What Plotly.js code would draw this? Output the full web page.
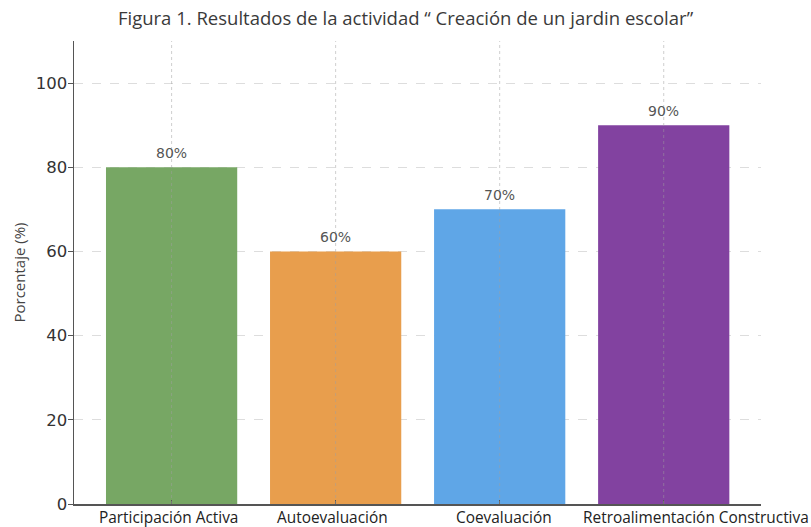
<!DOCTYPE html>
<html>
<head>
<meta charset="utf-8">
<script src="https://cdn.plot.ly/plotly-3.0.1.min.js"></script>
<style>html,body{margin:0;padding:0;background:#fff;}#chart{width:811px;height:527px;}</style>
</head>
<body>
<div id="chart"></div>
<script>
const categories = ["Participación Activa", "Autoevaluación", "Coevaluación", "Retroalimentación Constructiva"];
const values = [80, 60, 70, 90];
const barColors = ["#77a764", "#e89e4d", "#5fa6e7", "#8242a0"];
const yTicks = [0, 20, 40, 60, 80, 100];
const chartTitle = "Figura 1. Resultados de la actividad “ Creación de un jardin escolar”";
const yTitle = "Porcentaje (%)";
const labelShift = [-3, -3, 4, 32];

const trace = {
  type: "bar",
  x: categories,
  y: values,
  width: 0.8,
  marker: { color: barColors, line: { width: 0 } },
  hoverinfo: "skip"
};

const valueLabels = categories.map((c, i) => ({
  x: c, y: values[i], xref: "x", yref: "y",
  text: values[i] + "%", showarrow: false,
  yanchor: "bottom", yshift: 4,
  font: { family: "DejaVu Sans", size: 14, color: "#555555" }
}));

const categoryLabels = categories.map((c, i) => ({
  x: c, y: 0, xref: "x", yref: "paper",
  text: c, showarrow: false,
  yanchor: "middle", yshift: -13, xshift: labelShift[i],
  font: { family: "Open Sans", size: 15.4, color: "#222222" }
}));

const shapes = categories.map(c => ({
  type: "line", xref: "x", yref: "paper",
  x0: c, x1: c, y0: 0, y1: 1,
  layer: "above",
  line: { color: "rgba(160,160,160,0.5)", width: 1, dash: "dot" }
}));

const layout = {
  width: 811, height: 527,
  margin: { l: 74, r: 50, t: 41, b: 23 },
  paper_bgcolor: "#ffffff",
  plot_bgcolor: "#ffffff",
  showlegend: false,
  title: {
    text: chartTitle,
    font: { family: "Open Sans", size: 18.5, color: "#3a3a3a" },
    x: 0.5, xref: "container", xanchor: "center",
    y: 0.965, yref: "container", yanchor: "middle"
  },
  xaxis: {
    type: "category",
    range: [-0.595, 3.593],
    showticklabels: false,
    automargin: false,
    showgrid: false,
    showline: true, linecolor: "#555555", linewidth: 1.5,
    ticks: "inside", ticklen: 4, tickcolor: "#555555", tickwidth: 1,
    zeroline: false
  },
  yaxis: {
    range: [0, 110],
    tickvals: yTicks,
    showgrid: true, gridcolor: "#dddddd", gridwidth: 1, griddash: "dash",
    showline: true, linecolor: "#555555", linewidth: 1.5,
    ticks: "outside", ticklen: 5, tickcolor: "#555555", tickwidth: 1,
    ticklabelstandoff: -3,
    tickfont: { family: "DejaVu Sans", size: 16.5, color: "#333333" },
    zeroline: false,
    title: { text: yTitle, font: { family: "Open Sans", size: 15, color: "#444444" }, standoff: 6 }
  },
  annotations: valueLabels.concat(categoryLabels),
  shapes: shapes,
  bargap: 0.2
};

Plotly.newPlot("chart", [trace], layout, { displayModeBar: false, staticPlot: true });
</script>
</body>
</html>
